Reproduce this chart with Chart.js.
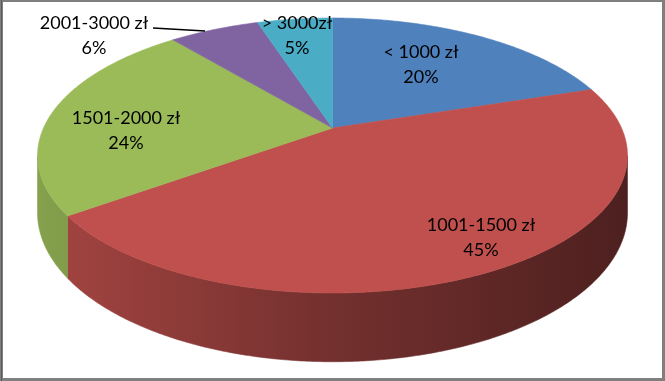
<!DOCTYPE html>
<html>
<head>
<meta charset="utf-8">
<script src="https://cdn.jsdelivr.net/npm/chart.js@4.4.1/dist/chart.umd.min.js"></script>
<style>
  html, body { margin: 0; padding: 0; background: #ffffff; }
  #wrap { position: relative; width: 665px; height: 381px; }
  canvas { display: block; }
</style>
</head>
<body>
<div id="wrap"><canvas id="c" width="665" height="381"></canvas></div>
<script>
// ---- data ----
const categories = ['< 1000 zł', '1001-1500 zł', '1501-2000 zł', '2001-3000 zł', '> 3000zł'];
const values = [20, 45, 24, 6, 5];
const sliceColors = ['#4F81BD', '#C0504D', '#9BBB59', '#8064A2', '#4BACC6'];

// ---- layout (not data) ----
const labelAnchors = [[421, 52], [481, 225], [126, 118], [94, 23], [297, 23]];
const LINE_GAP = 25;
const FONT_PX = 18;
// 3D perspective projection parameters
const PROJ = { cy: 128, A: 289, B: 132, k: 0.2, H: 55 };

function hexToRgb(h) {
  const n = parseInt(h.slice(1), 16);
  return [(n >> 16) & 255, (n >> 8) & 255, n & 255];
}
function shade(h, f) {
  const c = hexToRgb(h).map(v => Math.max(0, Math.min(255, Math.round(v * f))));
  return 'rgb(' + c.join(',') + ')';
}

const pie3d = {
  id: 'pie3d',
  beforeDatasetsDraw(chart) {
    const ctx = chart.ctx;
    const W = chart.width, Hh = chart.height;
    // frame
    ctx.save();
    ctx.fillStyle = '#7f7f7f';
    ctx.fillRect(0, 0, W, Hh);
    ctx.fillStyle = '#5a5a5a';
    ctx.fillRect(1, 0, 1, Hh);
    ctx.fillStyle = '#ffffff';
    ctx.fillRect(3, 2, W - 6, Hh - 5);

    const meta = chart.getDatasetMeta(0);
    const arcs = meta.data;
    const cx = arcs[0].x;
    const { cy, A, B, k, H } = PROJ;
    const proj = (a, h) => {
      const s = Math.sin(a), c = Math.cos(a);
      const w = 1 - k * s;
      return [cx + A * c / w, cy + (B * s + h) / w];
    };
    const step = Math.PI / 360;
    const visLo = Math.asin(k), visHi = Math.PI - Math.asin(k);
    const leftX = cx - A / Math.sqrt(1 - k * k), rightX = cx + A / Math.sqrt(1 - k * k);

    // side walls
    arcs.forEach((arc, i) => {
      const s = Math.max(arc.startAngle, visLo);
      const e = Math.min(arc.endAngle, visHi);
      if (e <= s) return;
      const col = sliceColors[i];
      const g = ctx.createLinearGradient(leftX, 0, rightX, 0);
      g.addColorStop(0, shade(col, 0.86));
      g.addColorStop(0.5, shade(col, 0.6));
      g.addColorStop(1, shade(col, 0.4));
      ctx.beginPath();
      let p = proj(s, 0);
      ctx.moveTo(p[0], p[1]);
      for (let a = s; a < e; a += step) { p = proj(a, 0); ctx.lineTo(p[0], p[1]); }
      p = proj(e, 0); ctx.lineTo(p[0], p[1]);
      for (let a = e; a > s; a -= step) { p = proj(a, H); ctx.lineTo(p[0], p[1]); }
      p = proj(s, H); ctx.lineTo(p[0], p[1]);
      ctx.closePath();
      ctx.fillStyle = g;
      ctx.fill();
      ctx.strokeStyle = g;
      ctx.lineWidth = 0.6;
      ctx.stroke();
    });

    // top faces
    arcs.forEach((arc, i) => {
      const s = arc.startAngle, e = arc.endAngle;
      ctx.beginPath();
      ctx.moveTo(cx, cy);
      for (let a = s; a < e; a += step) { const p = proj(a, 0); ctx.lineTo(p[0], p[1]); }
      const p = proj(e, 0); ctx.lineTo(p[0], p[1]);
      ctx.closePath();
      ctx.fillStyle = sliceColors[i];
      ctx.fill();
      ctx.strokeStyle = sliceColors[i];
      ctx.lineWidth = 0.6;
      ctx.stroke();
    });

    // leader line for small slice label
    ctx.beginPath();
    ctx.moveTo(153, 28);
    ctx.lineTo(205, 31);
    ctx.strokeStyle = '#000';
    ctx.lineWidth = 1.5;
    ctx.stroke();

    // labels
    const total = values.reduce((a, b) => a + b, 0);
    ctx.fillStyle = '#000';
    ctx.font = FONT_PX + 'px Lato, "Open Sans", sans-serif';
    ctx.textAlign = 'center';
    ctx.textBaseline = 'alphabetic';
    const dy = FONT_PX * 0.36;
    categories.forEach((cat, i) => {
      const [lx, ly] = labelAnchors[i];
      ctx.fillText(cat, lx, ly + dy);
      ctx.fillText(Math.round(values[i] / total * 100) + '%', lx, ly + LINE_GAP + dy);
    });
    ctx.restore();
    return false;
  }
};

new Chart(document.getElementById('c'), {
  type: 'pie',
  data: {
    labels: categories,
    datasets: [{ data: values, backgroundColor: sliceColors, borderWidth: 0 }]
  },
  options: {
    responsive: false,
    animation: false,
    devicePixelRatio: 1,
    plugins: { legend: { display: false }, tooltip: { enabled: false } }
  },
  plugins: [pie3d]
});
</script>
</body>
</html>
